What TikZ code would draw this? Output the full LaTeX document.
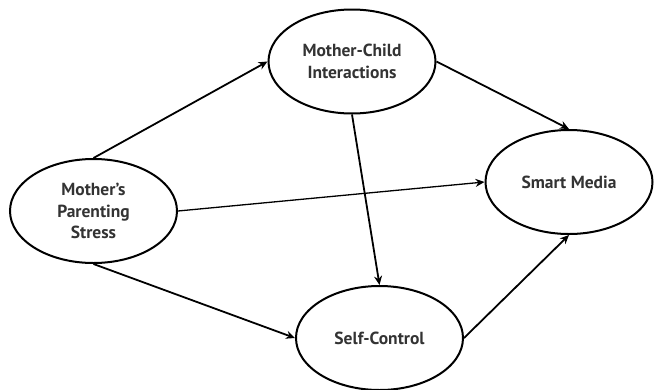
\documentclass[tikz,border=0pt]{standalone}
\usepackage{fontspec}
\setsansfont{PT Sans}
\usetikzlibrary{arrows.meta,shapes.geometric}
\definecolor{txtgray}{HTML}{333333}
\tikzset{
  var/.style={draw,ellipse,line width=2pt,minimum width=167pt,minimum height=104pt,
    inner sep=0pt,align=center,text=txtgray,font=\sffamily\bfseries\fontsize{17.5}{21.5}\selectfont},
  path/.style={line width=1.8pt,-{Stealth[length=9pt,width=8pt]}},
  thinpath/.style={path,line width=1.3pt}
}
\begin{document}
\begin{tikzpicture}[x=1pt,y=-1pt]
\useasboundingbox (0,0) rectangle (654,389);
\node[var] (stress) at (93.5,211) {Mother's\\Parenting\\Stress};
\node[var] (inter) at (352,61.5) {Mother-Child\\Interactions};
\node[var] (media) at (569,182) {Smart Media};
\node[var] (self) at (379.5,338) {Self-Control};
\draw[path] (stress.north) -- (inter.west);
\draw[path] (inter.east) -- (media.north);
\draw[path] (inter.south) -- (self.north);
\draw[thinpath] (stress.east) -- (media.west);
\draw[path] (stress.south) -- (self.west);
\draw[path] (self.east) -- (media.south);
\end{tikzpicture}
\end{document}
